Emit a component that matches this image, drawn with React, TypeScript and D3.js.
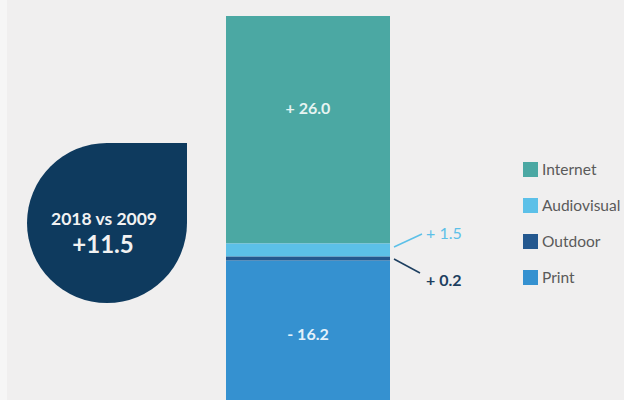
import React from "react";
import * as d3 from "d3";

const categories = ["Internet", "Audiovisual", "Outdoor", "Print"];
const values = [26.0, 1.5, 0.2, -16.2];
const labels = ["+ 26.0", "+ 1.5", "+ 0.2", "- 16.2"];
const colors = ["#4ba8a3", "#5cc0e8", "#24588f", "#3591d0"];
const totalLabel = "+11.5";
const periodLabel = "2018 vs 2009";

const W = 624;
const H = 400;
const FONT = "Lato, 'Open Sans', sans-serif";

export default function App() {
  const mags = values.map((v) => Math.abs(v));
  const cum: number[] = [];
  let acc = 0;
  mags.forEach((m) => {
    cum.push(acc);
    acc += m;
  });
  const y = d3.scaleLinear().domain([0, acc]).range([16, 16 + acc * 8.75]);
  const x0 = 226;
  const x1 = 390;
  const segs = categories.map((c, i) => {
    const top = y(cum[i]);
    let h = y(cum[i] + mags[i]) - top;
    if (h < 4) h = 4;
    return { c, top, h, color: colors[i], label: labels[i] };
  });
  for (let i = 1; i < segs.length; i++) {
    segs[i].top = Math.max(segs[i].top, segs[i - 1].top + segs[i - 1].h);
  }

  const cx = 107;
  const cy = 223;
  const r = 80;
  const drop = `M ${cx - r} ${cy} A ${r} ${r} 0 1 0 ${cx + r} ${cy} L ${cx + r} ${cy - r} L ${cx} ${cy - r} A ${r} ${r} 0 0 0 ${cx - r} ${cy} Z`;

  const legendY = [170, 206, 242, 278];

  return (
    <svg
      width={W}
      height={H}
      style={{ position: "absolute", left: 0, top: 0, background: "#f0efef" }}
    >
      <rect x={0} y={0} width={7} height={H} fill="#f6f6f6" />
      <path d={drop} fill="#0e3a5e" />
      <text x={104} y={225} textAnchor="middle" fill="#f2f2f2" fontFamily={FONT} fontWeight="bold" fontSize={17.5}>
        {periodLabel}
      </text>
      <text x={103} y={253} textAnchor="middle" fill="#f2f2f2" fontFamily={FONT} fontWeight="bold" fontSize={24}>
        {totalLabel}
      </text>

      {segs.map((s) => (
        <rect key={s.c} x={x0} y={s.top} width={x1 - x0} height={s.h} fill={s.color} />
      ))}
      <text x={(x0 + x1) / 2} y={114} textAnchor="middle" fill="#e6f4f2" fontFamily={FONT} fontWeight="bold" fontSize={16}>
        {segs[0].label}
      </text>
      <text x={(x0 + x1) / 2} y={340} textAnchor="middle" fill="#e4f1fa" fontFamily={FONT} fontWeight="bold" fontSize={16}>
        {segs[3].label}
      </text>

      <line x1={394} y1={247} x2={422} y2={234} stroke="#5cc0e8" strokeWidth={1.5} />
      <text x={426} y={239} fill="#5cc0e8" fontFamily={FONT} fontSize={16}>
        {segs[1].label}
      </text>
      <line x1={394} y1={259} x2={420} y2={273} stroke="#1d3f60" strokeWidth={1.5} />
      <text x={426} y={286} fill="#1d3f60" fontFamily={FONT} fontWeight="bold" fontSize={16}>
        {segs[2].label}
      </text>

      {categories.map((c, i) => (
        <g key={c}>
          <rect x={523} y={legendY[i] - 8} width={15} height={15} fill={colors[i]} />
          <text x={542} y={legendY[i] + 5} fill="#5a5a5a" fontFamily={FONT} fontSize={15.5}>
            {c}
          </text>
        </g>
      ))}
    </svg>
  );
}
